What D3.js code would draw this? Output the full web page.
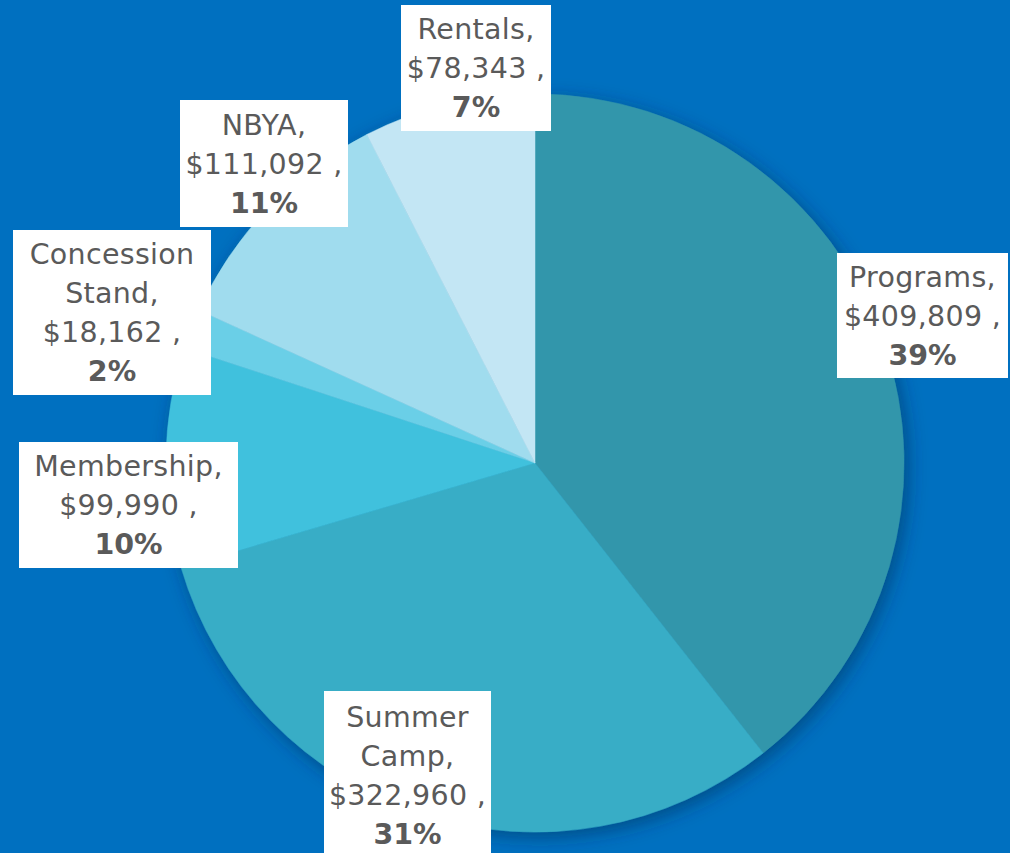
<!DOCTYPE html>
<html>
<head>
<meta charset="utf-8">
<script src="https://cdn.jsdelivr.net/npm/d3@7"></script>
<style>
  html, body { margin: 0; padding: 0; background: #0070c0; }
  svg { display: block; }
</style>
</head>
<body>
<svg id="chart" width="1010" height="853"></svg>
<script>
// ---- data ----
const categories = ["Programs", "Summer Camp", "Membership", "Concession Stand", "NBYA", "Rentals"];
const values = [409809, 322960, 99990, 18162, 111092, 78343];
const percentLabels = ["39%", "31%", "10%", "2%", "11%", "7%"];
const nameLines = [["Programs,"], ["Summer", "Camp,"], ["Membership,"], ["Concession", "Stand,"], ["NBYA,"], ["Rentals,"]];

// ---- styles / layout ----
const colors = ["#3396ab", "#38adc6", "#41c1dd", "#6bcfe7", "#a0dcee", "#c3e6f4"];
const labelBoxes = [ // [cx, cy, w, h]
  [922.5, 315.5, 171, 125],
  [407.5, 775, 167, 168],
  [128.5, 505, 219, 126],
  [112, 312.5, 198, 165],
  [264, 163.5, 168, 127],
  [476, 68, 150, 126]
];
const W = 1010, H = 853;
const cx = 535, cy = 463, R = 369;
const lineH = 39;
const fmt = d3.format(",");

const svg = d3.select("#chart");
svg.append("rect").attr("width", W).attr("height", H).attr("fill", "#0070c0");

const defs = svg.append("defs");
const f = defs.append("filter").attr("id", "shadow")
  .attr("x", "-20%").attr("y", "-20%").attr("width", "140%").attr("height", "140%");
f.append("feDropShadow").attr("dx", 4).attr("dy", 5).attr("stdDeviation", 9)
  .attr("flood-color", "#002850").attr("flood-opacity", 0.5);

const pie = d3.pie().sort(null).value(d => d.value);
const arc = d3.arc().innerRadius(0).outerRadius(R);
const data = categories.map((c, i) => ({ name: c, value: values[i], i }));
const arcs = pie(data);

const g = svg.append("g").attr("transform", `translate(${cx},${cy})`);
const slices = g.append("g").attr("filter", "url(#shadow)");
slices.selectAll("path").data(arcs).join("path")
  .attr("d", arc)
  .attr("fill", d => colors[d.data.i])
  .attr("stroke", d => colors[d.data.i])
  .attr("stroke-width", 0.5);

// labels
const labels = svg.append("g").attr("class", "labels");
arcs.forEach(d => {
  const i = d.data.i;
  const [bx, by, bw, bh] = labelBoxes[i];
  const lg = labels.append("g");
  lg.append("rect")
    .attr("x", bx - bw / 2).attr("y", by - bh / 2)
    .attr("width", bw).attr("height", bh)
    .attr("fill", "#ffffff");
  const lines = nameLines[i].map(t => ({ t, bold: false }))
    .concat([{ t: "$" + fmt(d.data.value) + " ,", bold: false }, { t: percentLabels[i], bold: true }]);
  const n = lines.length;
  lines.forEach((ln, k) => {
    lg.append("text")
      .attr("x", bx)
      .attr("y", by + (k - (n - 1) / 2) * lineH)
      .attr("dy", "0.36em")
      .attr("text-anchor", "middle")
      .attr("font-family", "'DejaVu Sans', sans-serif")
      .attr("font-size", 28.5)
      .attr("letter-spacing", ln.bold ? 0 : 0.3)
      .attr("font-weight", ln.bold ? "bold" : "normal")
      .attr("fill", "#5a5a5a")
      .text(ln.t);
  });
});
</script>
</body>
</html>
